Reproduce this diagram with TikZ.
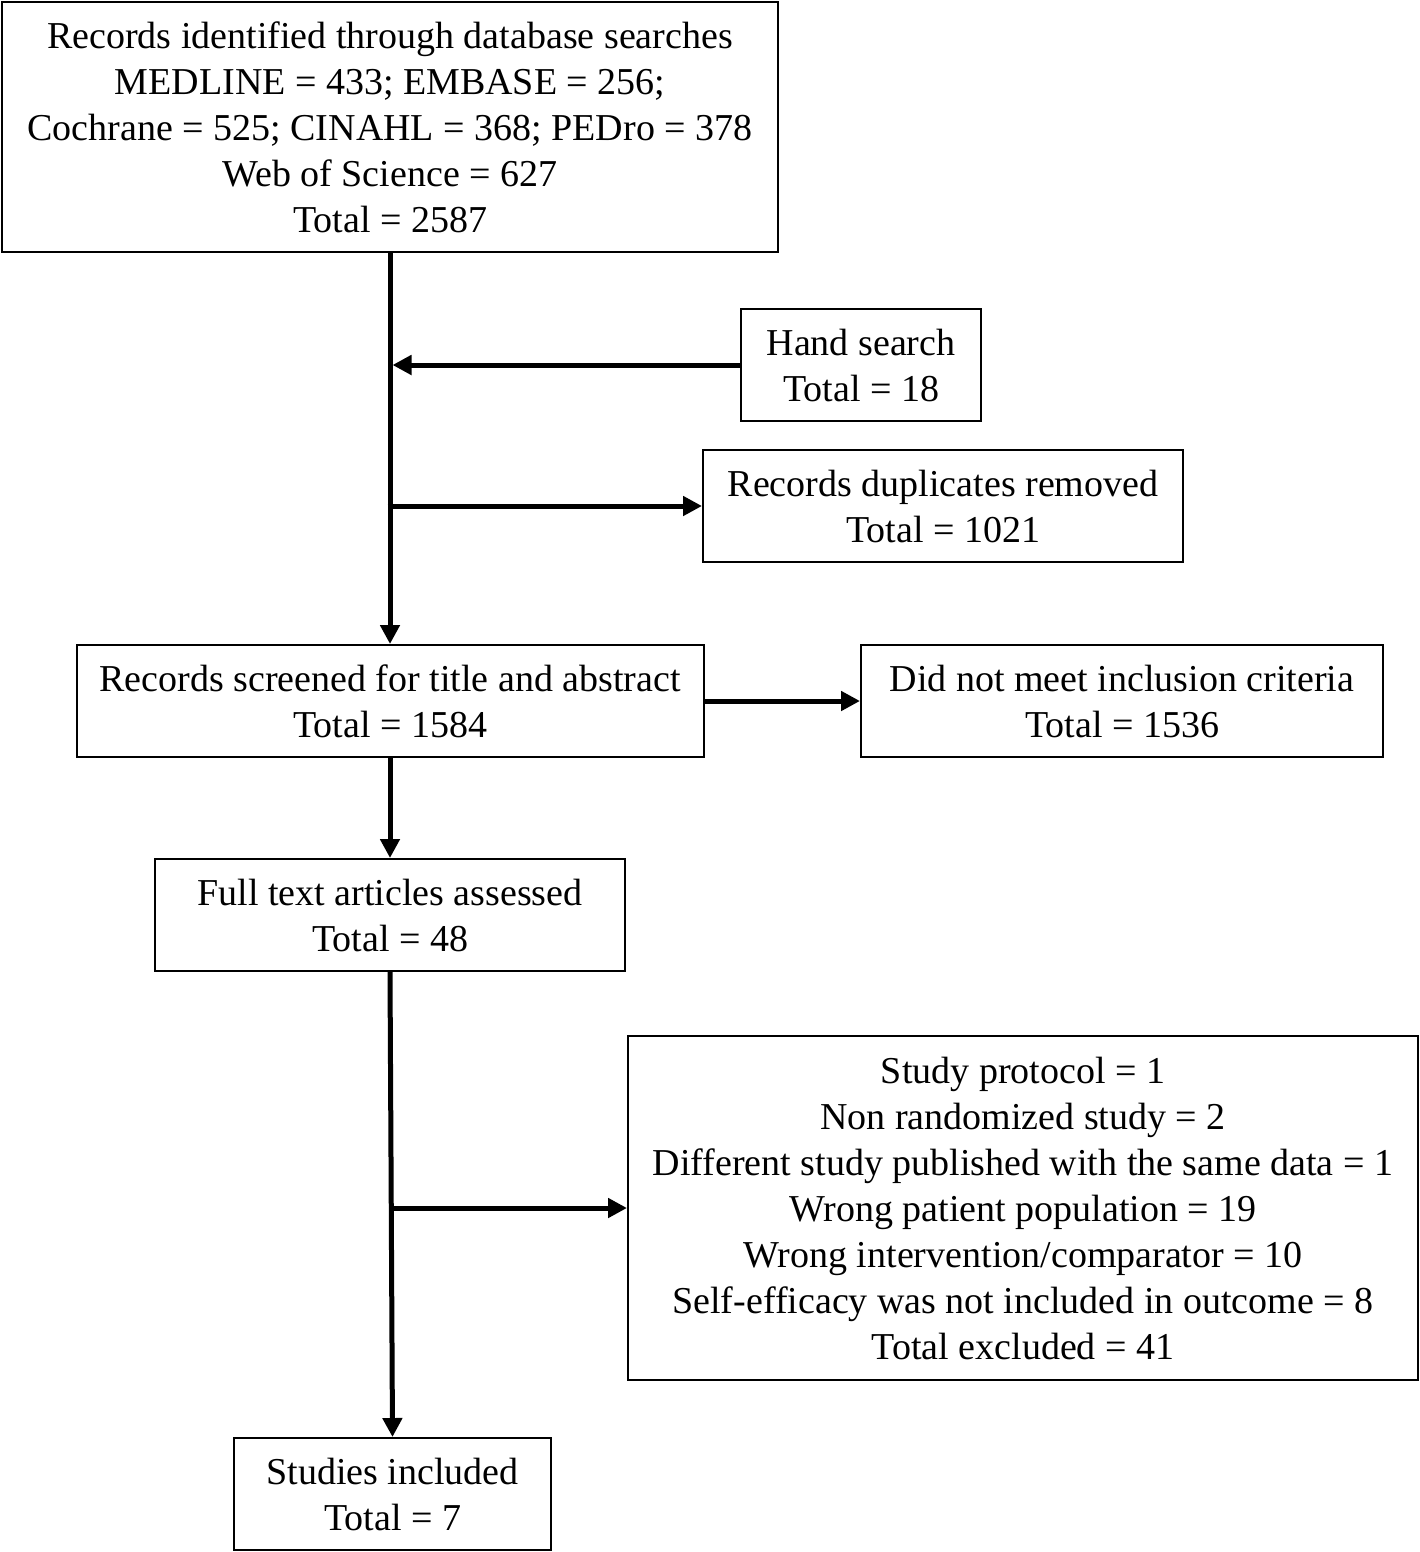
\documentclass[tikz,border=0pt]{standalone}
\usepackage{fontspec}
\setmainfont{Liberation Serif}
\usetikzlibrary{arrows.meta}
\begin{document}
\begin{tikzpicture}[x=1pt,y=-1pt,
  box/.style={draw, line width=2pt, inner sep=0pt, align=center, anchor=center,
    font=\fontsize{38}{46}\selectfont},
  arr/.style={line width=5pt, -{Triangle[length=19pt,width=19pt]}},
  conn/.style={line width=5pt}]
\useasboundingbox (0,0) rectangle (1420,1552);
\node[box, minimum width=776pt, minimum height=250pt] (top) at (390,127)
  {Records identified through database searches\\MEDLINE = 433; EMBASE = 256;\\Cochrane = 525; CINAHL = 368; PEDro = 378\\Web of Science = 627\\Total = 2587};
\node[box, minimum width=240pt, minimum height=112pt] (hand) at (861,365)
  {Hand search\\Total = 18};
\node[box, minimum width=480pt, minimum height=112pt] (dup) at (943,506)
  {Records duplicates removed\\Total = 1021};
\node[box, minimum width=627pt, minimum height=112pt] (screen) at (390,701)
  {Records screened for title and abstract\\Total = 1584};
\node[box, minimum width=522pt, minimum height=112pt] (notmeet) at (1122,701)
  {Did not meet inclusion criteria\\Total = 1536};
\node[box, minimum width=470pt, minimum height=112pt] (full) at (390,915)
  {Full text articles assessed\\Total = 48};
\node[box, minimum width=790pt, minimum height=344pt] (excl) at (1023,1208)
  {Study protocol = 1\\Non randomized study = 2\\Different study published with the same data = 1\\Wrong patient population = 19\\Wrong intervention/comparator = 10\\Self-efficacy was not included in outcome = 8\\Total excluded = 41};
\node[box, minimum width=317pt, minimum height=112pt] (incl) at (392.5,1494)
  {Studies included\\Total = 7};
\draw[arr] (top.south) -- (top.south |- screen.north);
\draw[arr] (hand.west) -- ([xshift=2.5pt]hand.west -| top.south);
\draw[arr] ([xshift=-2.5pt]dup.west -| top.south) -- (dup.west);
\draw[arr] (screen.east) -- (notmeet.west);
\draw[arr] (screen.south) -- (full.north);
\draw[arr] (full.south) -- (incl.north);
\draw[arr] ([xshift=-1pt]excl.west -| full.south) -- (excl.west);
\end{tikzpicture}
\end{document}
